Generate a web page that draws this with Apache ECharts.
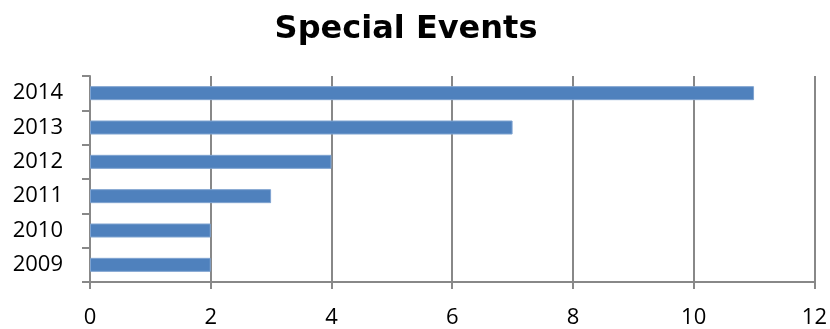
<!DOCTYPE html>
<html>
<head>
<meta charset="utf-8">
<script src="https://cdn.jsdelivr.net/npm/echarts@6/dist/echarts.min.js"></script>
<style>
  html, body { margin: 0; padding: 0; background: #fff; }
  #main { width: 830px; height: 329px; }
</style>
</head>
<body>
<div id="main"></div>
<script>
const years = ['2009', '2010', '2011', '2012', '2013', '2014'];
const events = [2, 2, 3, 4, 7, 11];
const xTicks = { min: 0, max: 12, step: 2 };

const chart = echarts.init(document.getElementById('main'));
const font = '"Open Sans", "Liberation Sans", sans-serif';

chart.setOption({
  animation: false,
  title: {
    text: 'Special Events',
    left: 401,
    textAlign: 'center',
    top: 9,
    textStyle: { fontFamily: '"DejaVu Sans", sans-serif', fontSize: 32, fontWeight: 'bold', color: '#000' }
  },
  grid: { left: 90, right: 15, top: 76, bottom: 45, containLabel: false },
  xAxis: {
    type: 'value',
    min: xTicks.min,
    max: xTicks.max,
    interval: xTicks.step,
    axisLine: { show: true, lineStyle: { color: '#888', width: 2 } },
    axisTick: { show: true, length: 7, lineStyle: { color: '#888', width: 2 } },
    splitLine: { show: true, lineStyle: { color: '#888', width: 2 } },
    axisLabel: { fontFamily: font, fontSize: 22, color: '#000', margin: 25 }
  },
  yAxis: {
    type: 'category',
    data: years,
    axisLine: { show: true, lineStyle: { color: '#888', width: 2 } },
    axisTick: { show: true, length: 8, lineStyle: { color: '#888', width: 2 } },
    axisLabel: { fontFamily: font, fontSize: 22, color: '#000', margin: 27 }
  },
  series: [{
    type: 'bar',
    data: events,
    barWidth: 14,
    itemStyle: { color: '#4F81BD', borderColor: '#7FA3D0', borderWidth: 1 }
  }]
});
</script>
</body>
</html>
